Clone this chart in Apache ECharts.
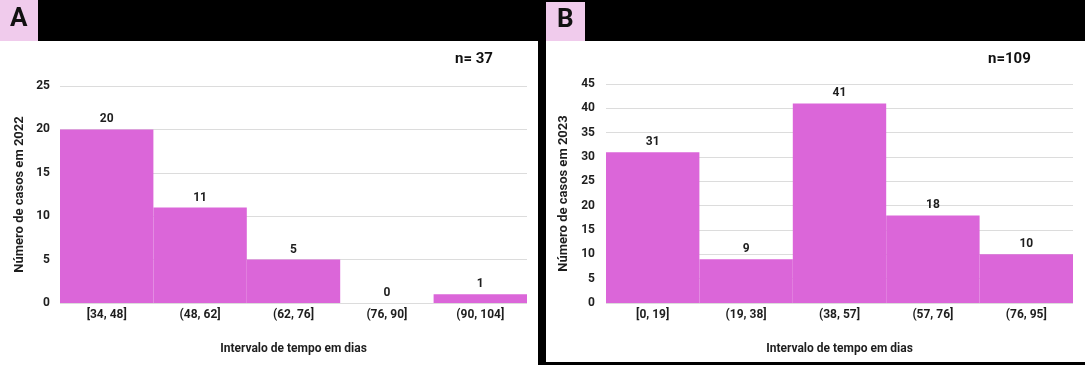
<!DOCTYPE html>
<html>
<head>
<meta charset="utf-8">
<script src="https://cdn.jsdelivr.net/npm/echarts@6/dist/echarts.min.js"></script>
<style>
html,body{margin:0;padding:0;background:#000;}
#c{width:1085px;height:365px;}
</style>
</head>
<body>
<div id="c"></div>
<script>
const catsA = ['[34, 48]', '(48, 62]', '(62, 76]', '(76, 90]', '(90, 104]'];
const valsA = [20, 11, 5, 0, 1];
const catsB = ['[0, 19]', '(19, 38]', '(38, 57]', '(57, 76]', '(76, 95]'];
const valsB = [31, 9, 41, 18, 10];
const yNameA = 'Número de casos em 2022';
const yNameB = 'Número de casos em 2023';
const xName = 'Intervalo de tempo em dias';
const nA = 'n= 37';
const nB = 'n=109';

const FONT = 'Roboto, "Liberation Sans", sans-serif';
const BAR = '#db66d9';
const TXT = '#1e1e1e';

const chart = echarts.init(document.getElementById('c'), null, {renderer: 'canvas'});

function xAxis(idx, cats) {
  return {
    type: 'category', gridIndex: idx, data: cats,
    axisLine: {show: false}, axisTick: {show: false},
    axisLabel: {color: TXT, fontFamily: FONT, fontWeight: 'bold', fontSize: 12, margin: 6},
    name: xName, nameLocation: 'middle', nameGap: 40,
    nameTextStyle: {color: TXT, fontFamily: FONT, fontWeight: 'bold', fontSize: 12}
  };
}
function yAxis(idx, max, name, gap, margin) {
  return {
    type: 'value', gridIndex: idx, min: 0, max: max, interval: 5,
    axisLine: {show: false}, axisTick: {show: false},
    splitLine: {lineStyle: {color: '#dcdcdc', width: 1}},
    axisLabel: {color: TXT, fontFamily: FONT, fontWeight: 'bold', fontSize: 12, margin: margin},
    name: name, nameLocation: 'middle', nameGap: gap, nameRotate: 90,
    nameTextStyle: {color: TXT, fontFamily: FONT, fontWeight: 'bold', fontSize: 13}
  };
}
function barSeries(idx, vals) {
  return {
    type: 'bar', xAxisIndex: idx, yAxisIndex: idx, data: vals,
    barCategoryGap: '0%', itemStyle: {color: BAR},
    label: {show: true, position: 'top', distance: 4, color: TXT, fontFamily: FONT, fontWeight: 'bold', fontSize: 12}
  };
}

chart.setOption({
  backgroundColor: '#000',
  animation: false,
  graphic: [
    {type: 'rect', shape: {x: 0, y: 41, width: 538, height: 324}, style: {fill: '#fff'}, z: -10},
    {type: 'rect', shape: {x: 546, y: 41, width: 539, height: 321}, style: {fill: '#fff'}, z: -10},
    {type: 'rect', shape: {x: 0, y: 0, width: 38, height: 41}, style: {fill: '#f0cbec'}, z: -10},
    {type: 'rect', shape: {x: 546, y: 2, width: 39, height: 39}, style: {fill: '#f0cbec'}, z: -10},
    {type: 'text', left: 10, top: 6, style: {text: 'A', fill: '#111', font: 'bold 26px ' + FONT}},
    {type: 'text', left: 557, top: 7, style: {text: 'B', fill: '#111', font: 'bold 26px ' + FONT}},
    {type: 'text', left: 455, top: 52, style: {text: nA, fill: '#111', font: 'bold 15px ' + FONT}},
    {type: 'text', left: 988, top: 52, style: {text: nB, fill: '#111', font: 'bold 15px ' + FONT}}
  ],
  grid: [
    {left: 60, right: 558, top: 86, bottom: 62},
    {left: 606, right: 12, top: 84, bottom: 62}
  ],
  xAxis: [xAxis(0, catsA), xAxis(1, catsB)],
  yAxis: [yAxis(0, 25, yNameA, 34, 10), yAxis(1, 45, yNameB, 36, 11)],
  series: [barSeries(0, valsA), barSeries(1, valsB)]
});
</script>
</body>
</html>
